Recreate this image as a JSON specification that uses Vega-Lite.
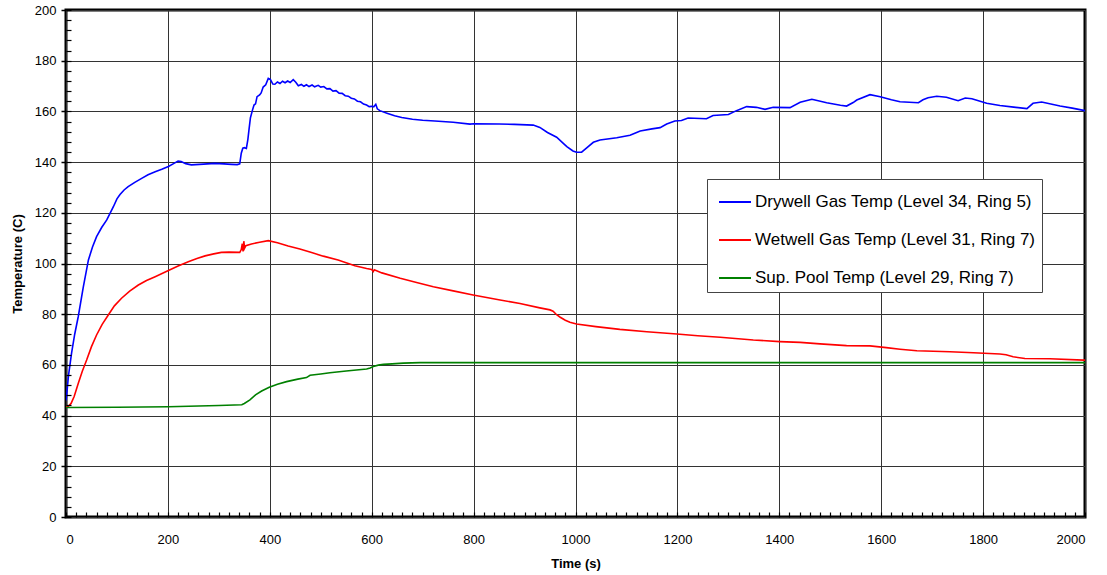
{
  "$schema": "https://vega.github.io/schema/vega-lite/v6.json",
  "autosize": {"type": "none"},
  "padding": {"left": 66, "top": 10, "right": 22, "bottom": 58},
  "width": 1019,
  "height": 507,
  "background": "white",
  "config": {
    "view": {"stroke": "#000", "strokeWidth": 3},
    "font": "Liberation Sans",
    "axis": {"labelFont": "Liberation Sans", "titleFont": "Liberation Sans", "labelColor": "#000", "titleColor": "#000", "labelFontSize": 13, "titleFontSize": 13, "titleFontWeight": "bold", "domain": false, "tickColor": "#000", "gridColor": "#333", "gridWidth": 1, "gridOpacity": 1},
    "legend": {"labelFont": "Liberation Sans"}
  },
  "datasets": {
    "drywell": [
      {"t": 0, "T": 46}, {"t": 1, "T": 47.5}, {"t": 5, "T": 56}, {"t": 11, "T": 64.7}, {"t": 17, "T": 72}, {"t": 24, "T": 79}, {"t": 34, "T": 90.8}, {"t": 44, "T": 101.4}, {"t": 52, "T": 106.5}, {"t": 60, "T": 110.6}, {"t": 70, "T": 114.2}, {"t": 80, "T": 117.2}, {"t": 93, "T": 122.4}, {"t": 100, "T": 125.5}, {"t": 106, "T": 127.2}, {"t": 114, "T": 129}, {"t": 122, "T": 130.3}, {"t": 135, "T": 132}, {"t": 148.5, "T": 133.6}, {"t": 161, "T": 135}, {"t": 175, "T": 136.2}, {"t": 188, "T": 137.2}, {"t": 201, "T": 138.3}, {"t": 212, "T": 139.5}, {"t": 220, "T": 140.4}, {"t": 226, "T": 140.2}, {"t": 235, "T": 139.4}, {"t": 246, "T": 138.9}, {"t": 270, "T": 139.2}, {"t": 292, "T": 139.5}, {"t": 310, "T": 139.3}, {"t": 325, "T": 139.1}, {"t": 336, "T": 139.0}, {"t": 341, "T": 139.3}, {"t": 344, "T": 143.5}, {"t": 347, "T": 145.5}, {"t": 350, "T": 145.7}, {"t": 354, "T": 145.4}, {"t": 357, "T": 149}, {"t": 359, "T": 152.5}, {"t": 362, "T": 157.5}, {"t": 366, "T": 160.5}, {"t": 369, "T": 162.5}, {"t": 372, "T": 163}, {"t": 375, "T": 165.8}, {"t": 380, "T": 166.5}, {"t": 383, "T": 167.3}, {"t": 387, "T": 169.6}, {"t": 392, "T": 170.5}, {"t": 397, "T": 173}, {"t": 401, "T": 172.6}, {"t": 406, "T": 170.8}, {"t": 410, "T": 170.7},
      {"t": 415, "T": 171.6}, {"t": 420, "T": 171.0}, {"t": 425, "T": 171.9}, {"t": 430, "T": 171.3}, {"t": 435, "T": 172.0}, {"t": 440, "T": 171.4}, {"t": 446, "T": 172.5}, {"t": 451, "T": 171.5}, {"t": 456, "T": 170.1}, {"t": 462, "T": 170.6}, {"t": 467, "T": 169.9}, {"t": 472, "T": 170.5}, {"t": 477, "T": 169.8}, {"t": 483, "T": 170.4}, {"t": 488, "T": 169.7}, {"t": 495, "T": 170.3}, {"t": 500, "T": 169.6}, {"t": 506, "T": 169.8}, {"t": 512, "T": 168.9}, {"t": 518, "T": 169.0}, {"t": 524, "T": 168.0}, {"t": 530, "T": 168.2}, {"t": 536, "T": 167.2}, {"t": 542, "T": 167.1}, {"t": 548, "T": 166.2}, {"t": 554, "T": 166.0}, {"t": 560, "T": 165.2}, {"t": 566, "T": 164.9}, {"t": 572, "T": 164.0}, {"t": 578, "T": 163.8}, {"t": 584, "T": 162.9}, {"t": 590, "T": 162.5}, {"t": 595, "T": 161.9}, {"t": 600, "T": 162.0}, {"t": 604, "T": 161.8}, {"t": 608, "T": 162.8}, {"t": 611, "T": 161.0}, {"t": 616, "T": 160.3},
      {"t": 630, "T": 159.3}, {"t": 645, "T": 158.3}, {"t": 659, "T": 157.6}, {"t": 680, "T": 156.9}, {"t": 700, "T": 156.5}, {"t": 724, "T": 156.2}, {"t": 760, "T": 155.7}, {"t": 793, "T": 155.0}, {"t": 800, "T": 155.1}, {"t": 850, "T": 155.0}, {"t": 880, "T": 154.9}, {"t": 917, "T": 154.6}, {"t": 930, "T": 153.7}, {"t": 945, "T": 151.7}, {"t": 963, "T": 149.8}, {"t": 975, "T": 147.6}, {"t": 983, "T": 146.1}, {"t": 995, "T": 144.4}, {"t": 1002, "T": 143.9}, {"t": 1012, "T": 143.9}, {"t": 1022, "T": 145.6}, {"t": 1035, "T": 147.8}, {"t": 1048, "T": 148.7}, {"t": 1081, "T": 149.6}, {"t": 1107, "T": 150.6}, {"t": 1120, "T": 151.7}, {"t": 1127, "T": 152.3}, {"t": 1150, "T": 153.1}, {"t": 1166, "T": 153.6}, {"t": 1179, "T": 155.0}, {"t": 1195, "T": 156.2}, {"t": 1208, "T": 156.4}, {"t": 1221, "T": 157.4}, {"t": 1257, "T": 157.1}, {"t": 1270, "T": 158.4}, {"t": 1300, "T": 158.8}, {"t": 1316, "T": 160.3}, {"t": 1336, "T": 161.9}, {"t": 1355, "T": 161.6}, {"t": 1372, "T": 160.8}, {"t": 1388, "T": 161.6}, {"t": 1421, "T": 161.5}, {"t": 1441, "T": 163.6}, {"t": 1464, "T": 164.8}, {"t": 1493, "T": 163.4}, {"t": 1520, "T": 162.4}, {"t": 1532, "T": 162.1}, {"t": 1545, "T": 163.5}, {"t": 1552, "T": 164.5}, {"t": 1578, "T": 166.6}, {"t": 1598, "T": 165.8}, {"t": 1620, "T": 164.6}, {"t": 1637, "T": 163.8}, {"t": 1673, "T": 163.4}, {"t": 1682, "T": 164.6}, {"t": 1692, "T": 165.4}, {"t": 1709, "T": 166.0}, {"t": 1728, "T": 165.6}, {"t": 1751, "T": 164.2}, {"t": 1765, "T": 165.3}, {"t": 1778, "T": 165.0}, {"t": 1807, "T": 163.2}, {"t": 1833, "T": 162.3}, {"t": 1860, "T": 161.7}, {"t": 1886, "T": 161.1}, {"t": 1898, "T": 163.2}, {"t": 1915, "T": 163.7}, {"t": 1951, "T": 162.1}, {"t": 1975, "T": 161.3}, {"t": 2000, "T": 160.3}
    ],
    "wetwell": [
      {"t": 0, "T": 43.3}, {"t": 5, "T": 43.8}, {"t": 10, "T": 44.8}, {"t": 16, "T": 47.5}, {"t": 24, "T": 52.7}, {"t": 32, "T": 57.5}, {"t": 40.5, "T": 61.9}, {"t": 50, "T": 67.2}, {"t": 60, "T": 71.8}, {"t": 71, "T": 76}, {"t": 83, "T": 79.7}, {"t": 95, "T": 83.3}, {"t": 109, "T": 86.3}, {"t": 125, "T": 89.1}, {"t": 142, "T": 91.5}, {"t": 158, "T": 93.3}, {"t": 175, "T": 94.8}, {"t": 201, "T": 97.2}, {"t": 220, "T": 99}, {"t": 240, "T": 100.7}, {"t": 257, "T": 102}, {"t": 273, "T": 103}, {"t": 290, "T": 103.8}, {"t": 305, "T": 104.4}, {"t": 320, "T": 104.5}, {"t": 341, "T": 104.4}, {"t": 344, "T": 105.5}, {"t": 346, "T": 107.8}, {"t": 347.5, "T": 104.8}, {"t": 349, "T": 108.8}, {"t": 350.5, "T": 106}, {"t": 353, "T": 107}, {"t": 364, "T": 107.7}, {"t": 380, "T": 108.4}, {"t": 397, "T": 109}, {"t": 415, "T": 108.2}, {"t": 436, "T": 106.9}, {"t": 459, "T": 105.7}, {"t": 482, "T": 104.3}, {"t": 505, "T": 102.9}, {"t": 534, "T": 101.4}, {"t": 567, "T": 99.1}, {"t": 590, "T": 98.0}, {"t": 600, "T": 97.6}, {"t": 603, "T": 96.8}, {"t": 605, "T": 97.5}, {"t": 620, "T": 96.3}, {"t": 656, "T": 94.2}, {"t": 690, "T": 92.4}, {"t": 721, "T": 90.8}, {"t": 760, "T": 89.2}, {"t": 799, "T": 87.6}, {"t": 852, "T": 85.6}, {"t": 891, "T": 84.2}, {"t": 930, "T": 82.5}, {"t": 950, "T": 81.7}, {"t": 956, "T": 81.2}, {"t": 963, "T": 79.8}, {"t": 970, "T": 78.8}, {"t": 980, "T": 77.6}, {"t": 989, "T": 76.8}, {"t": 1002, "T": 76.1}, {"t": 1040, "T": 75.1}, {"t": 1087, "T": 74.0}, {"t": 1140, "T": 73.1}, {"t": 1199, "T": 72.2}, {"t": 1240, "T": 71.5}, {"t": 1284, "T": 70.9}, {"t": 1349, "T": 69.8}, {"t": 1401, "T": 69.2}, {"t": 1441, "T": 68.9}, {"t": 1480, "T": 68.3}, {"t": 1532, "T": 67.6}, {"t": 1578, "T": 67.5}, {"t": 1610, "T": 66.8}, {"t": 1637, "T": 66.2}, {"t": 1670, "T": 65.6}, {"t": 1735, "T": 65.2}, {"t": 1781, "T": 64.8}, {"t": 1833, "T": 64.3}, {"t": 1845, "T": 64.0}, {"t": 1859, "T": 63.2}, {"t": 1882, "T": 62.5}, {"t": 1931, "T": 62.4}, {"t": 1997, "T": 61.9}, {"t": 2000, "T": 61.9}
    ],
    "pool": [
      {"t": 0, "T": 43.2}, {"t": 100, "T": 43.3}, {"t": 201, "T": 43.5}, {"t": 300, "T": 44.0}, {"t": 345, "T": 44.3}, {"t": 350, "T": 44.8}, {"t": 361, "T": 46.2}, {"t": 372, "T": 48.2}, {"t": 384, "T": 49.7}, {"t": 399, "T": 51.2}, {"t": 415, "T": 52.4}, {"t": 433, "T": 53.4}, {"t": 455, "T": 54.4}, {"t": 472, "T": 55}, {"t": 479, "T": 55.9}, {"t": 500, "T": 56.4}, {"t": 518, "T": 56.9}, {"t": 550, "T": 57.6}, {"t": 590, "T": 58.4}, {"t": 597, "T": 58.8}, {"t": 603, "T": 59.4}, {"t": 613, "T": 59.9}, {"t": 623, "T": 60.2}, {"t": 640, "T": 60.4}, {"t": 662, "T": 60.7}, {"t": 695, "T": 60.9}, {"t": 842, "T": 60.9}, {"t": 1000, "T": 60.9}, {"t": 1500, "T": 60.9}, {"t": 2000, "T": 60.9}
    ]
  },
  "resolve": {"axis": {"x": "independent", "y": "independent"}},
  "layer": [
    {
      "data": {"name": "drywell"},
      "mark": {"type": "line", "strokeWidth": 1.6, "clip": true},
      "encoding": {
        "x": {"field": "t", "type": "quantitative", "scale": {"domain": [0, 2000], "nice": false},
          "axis": {"orient": "bottom", "title": "Time (s)", "format": "d", "values": [0, 200, 400, 600, 800, 1000, 1200, 1400, 1600, 1800, 2000], "grid": true, "ticks": false, "labelPadding": 16, "titlePadding": 11}},
        "y": {"field": "T", "type": "quantitative", "scale": {"domain": [0, 200], "nice": false},
          "axis": {"orient": "left", "title": "Temperature (C)", "values": [0, 20, 40, 60, 80, 100, 120, 140, 160, 180, 200], "grid": true, "tickSize": 5, "tickWidth": 1.5, "labelPadding": 5, "titlePadding": 10}},
        "color": {"datum": "Drywell Gas Temp (Level 34, Ring 5)", "type": "nominal",
          "scale": {"domain": ["Drywell Gas Temp (Level 34, Ring 5)", "Wetwell Gas Temp (Level 31, Ring 7)", "Sup. Pool Temp (Level 29, Ring 7)"], "range": ["#0000FF", "#FF0000", "#008000"]},
          "legend": {"orient": "none", "legendX": 641, "legendY": 169, "title": null, "symbolType": "stroke", "symbolSize": 1024, "symbolStrokeWidth": 2, "symbolOffset": 5, "labelFontSize": 17, "labelLimit": 400, "labelOffset": 3, "labelExpr": "datum.label + '    '", "padding": 6, "rowPadding": 13, "fillColor": "#ffffff", "strokeColor": "#444"}}
      }
    },
    {
      "data": {"name": "wetwell"},
      "mark": {"type": "line", "strokeWidth": 1.6, "clip": true},
      "encoding": {
        "x": {"field": "t", "type": "quantitative", "scale": {"domain": [0, 2000], "nice": false}, "axis": null},
        "y": {"field": "T", "type": "quantitative", "scale": {"domain": [0, 200], "nice": false}, "axis": null},
        "color": {"datum": "Wetwell Gas Temp (Level 31, Ring 7)", "type": "nominal"}
      }
    },
    {
      "data": {"name": "pool"},
      "mark": {"type": "line", "strokeWidth": 1.6, "clip": true},
      "encoding": {
        "x": {"field": "t", "type": "quantitative", "scale": {"domain": [0, 2000], "nice": false},
          "axis": {"orient": "bottom", "title": null, "labels": false, "grid": false, "tickCount": 100, "tickSize": 5, "offset": -5, "tickWidth": 1.2, "zindex": 1}},
        "y": {"field": "T", "type": "quantitative", "scale": {"domain": [0, 200], "nice": false},
          "axis": {"orient": "left", "title": null, "labels": false, "grid": false, "tickSize": 5, "offset": -5, "tickWidth": 1.2, "zindex": 1, "values": [0,4,8,12,16,20,24,28,32,36,40,44,48,52,56,60,64,68,72,76,80,84,88,92,96,100,104,108,112,116,120,124,128,132,136,140,144,148,152,156,160,164,168,172,176,180,184,188,192,196,200]}},
        "color": {"datum": "Sup. Pool Temp (Level 29, Ring 7)", "type": "nominal"}
      }
    }
  ]
}
